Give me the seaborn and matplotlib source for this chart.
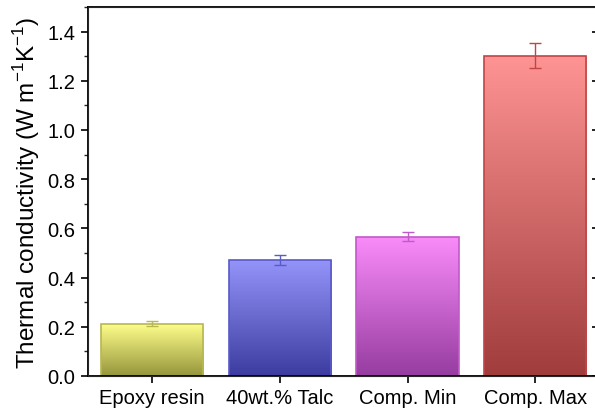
import numpy as np
import pandas as pd
import matplotlib
matplotlib.use("Agg")
import matplotlib.pyplot as plt
from matplotlib.colors import LinearSegmentedColormap
from matplotlib.ticker import MultipleLocator
import seaborn as sns

# data
samples = ["Epoxy resin", "40wt.% Talc", "Comp. Min", "Comp. Max"]
conductivity = [0.213, 0.473, 0.567, 1.302]
errors = [0.01, 0.02, 0.02, 0.05]

top_colors = ["#ffff8c", "#9494fa", "#fa8cfa", "#ff9494"]
bottom_colors = ["#96963c", "#3c3ca0", "#963ca0", "#a03c3c"]
edge_colors = ["#b8b850", "#5a5ac8", "#c05ac8", "#c04646"]

sns.set_style("ticks")
plt.rcParams["font.family"] = ["Liberation Sans", "DejaVu Sans"]

df = pd.DataFrame({"sample": samples, "k": conductivity})

fig = plt.figure(figsize=(5.95, 4.1), dpi=100)
# right spine sits just past the right edge of the picture
ax = fig.add_axes([0.148, 0.0805, 0.859, 0.9])

sns.barplot(data=df, x="sample", y="k", hue="sample", palette=edge_colors,
            legend=False, errorbar=None, width=0.8, ax=ax)

# gradient fill inside every bar
for i, p in enumerate(ax.patches):
    x0, y0 = p.get_x(), p.get_y()
    w, h = p.get_width(), p.get_height()
    cmap = LinearSegmentedColormap.from_list("g", [bottom_colors[i], top_colors[i]])
    grad = np.linspace(0, 1, 256).reshape(-1, 1)
    im = ax.imshow(grad, cmap=cmap, origin="lower", aspect="auto",
                   extent=[x0, x0 + w, y0, y0 + h], zorder=1.5)
    im.set_clip_path(p)
    p.set_facecolor("none")
    p.set_edgecolor(edge_colors[i])
    p.set_linewidth(1.2)
    p.set_zorder(2)

for i in range(len(samples)):
    ax.errorbar(i, conductivity[i], yerr=errors[i], fmt="none",
                ecolor=edge_colors[i], elinewidth=1.0, capsize=4,
                capthick=1.0, zorder=3)

ax.set_xlim(-0.5, 3.5)
ax.set_ylim(0, 1.5)
ax.yaxis.set_minor_locator(MultipleLocator(0.1))
ax.set_yticks(np.arange(0, 1.41, 0.2))
ax.set_yticklabels([f"{v:.1f}" for v in np.arange(0, 1.41, 0.2)])

for s in ax.spines.values():
    s.set_visible(True)
    s.set_linewidth(1.3)
    s.set_color("black")

ax.tick_params(axis="both", which="major", length=5, width=1.2,
               labelsize=14.5, direction="out", colors="black")
ax.tick_params(axis="y", which="minor", length=3, width=1.0, direction="out")
ax.tick_params(axis="x", pad=4)
ax.tick_params(axis="y", pad=4)

# inward ticks on the right spine
ax_r = ax.twinx()
ax_r.set_ylim(ax.get_ylim())
ax_r.set_yticks(np.arange(0, 1.41, 0.2))
ax_r.tick_params(axis="y", direction="in", length=5, width=1.2,
                 labelright=False, colors="black")
ax_r.grid(False)

ax.set_xlabel("")
ax.set_ylabel("Thermal conductivity (W m$^{\\mathregular{-1}}$K$^{\\mathregular{-1}}$)",
              fontsize=17.5, labelpad=4, color="black")

fig.savefig("out.png", dpi=100)
